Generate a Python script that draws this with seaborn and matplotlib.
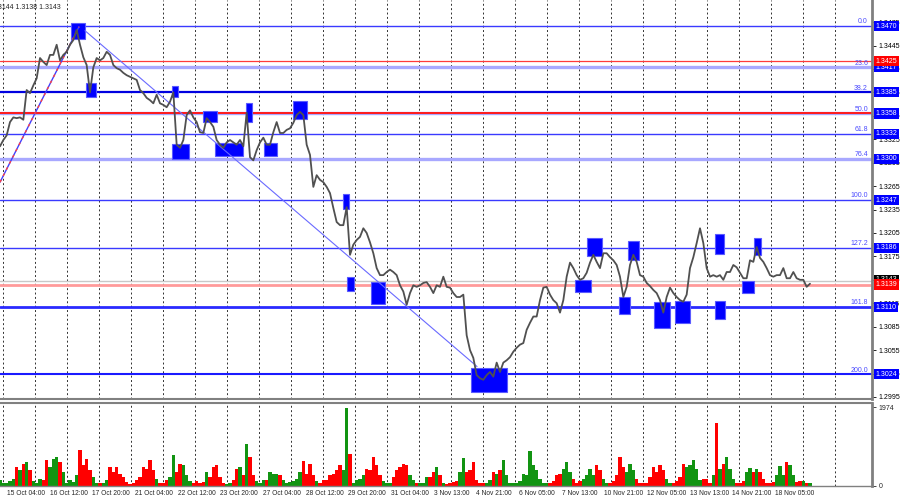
import numpy as np
import matplotlib
matplotlib.use('Agg')
import matplotlib.pyplot as plt
import matplotlib.transforms as mtransforms
from matplotlib.patches import Rectangle
import seaborn as sns

sns.set_style('white')
plt.rcParams['font.family'] = ['Liberation Sans', 'DejaVu Sans']

closes = [
    1.3316, 1.3324, 1.3330, 1.3347, 1.3353, 1.3352, 1.3353, 1.3350, 1.3388, 1.3384,
    1.3394, 1.3403, 1.3429, 1.3424, 1.3420, 1.3433, 1.3433, 1.3446, 1.3426, 1.3433,
    1.3437, 1.3446, 1.3452, 1.3465, 1.3446, 1.3430, 1.3420, 1.3385, 1.3417, 1.3429,
    1.3426, 1.3429, 1.3437, 1.3433, 1.3420, 1.3416, 1.3414, 1.3410, 1.3407, 1.3405,
    1.3403, 1.3401, 1.3388, 1.3384, 1.3378, 1.3375, 1.3371, 1.3382, 1.3371, 1.3369,
    1.3366, 1.3373, 1.3385, 1.3318, 1.3314, 1.3324, 1.3356, 1.3362, 1.3353, 1.3347,
    1.3334, 1.3333, 1.3352, 1.3347, 1.3341, 1.3324, 1.3318, 1.3314, 1.3321, 1.3324,
    1.3321, 1.3318, 1.3324, 1.3316, 1.3359, 1.3302, 1.3298, 1.3311, 1.3321, 1.3327,
    1.3318, 1.3318, 1.3334, 1.3347, 1.3333, 1.3333, 1.3337, 1.3339, 1.3346, 1.3356,
    1.3360, 1.3356, 1.3318, 1.3305, 1.3264, 1.3279, 1.3273, 1.3270, 1.3264, 1.3256,
    1.3237, 1.3219, 1.3215, 1.3215, 1.3238, 1.3177, 1.3190, 1.3196, 1.3200, 1.3211,
    1.3205, 1.3193, 1.3179, 1.3160, 1.3151, 1.3151, 1.3155, 1.3158, 1.3155, 1.3151,
    1.3138, 1.3130, 1.3113, 1.3128, 1.3138, 1.3136, 1.3138, 1.3141, 1.3142, 1.3136,
    1.3128, 1.3138, 1.3136, 1.3149, 1.3136, 1.3135, 1.3128, 1.3123, 1.3123, 1.3126,
    1.3074, 1.3055, 1.3045, 1.3023, 1.3019, 1.3017, 1.3023, 1.3027, 1.3021, 1.3039,
    1.3027, 1.3039, 1.3042, 1.3046, 1.3053, 1.3058, 1.3062, 1.3064, 1.3081, 1.3090,
    1.3098, 1.3098, 1.3119, 1.3135, 1.3136, 1.3126, 1.3119, 1.3115, 1.3103, 1.3119,
    1.3149, 1.3167, 1.3160, 1.3151, 1.3145, 1.3147, 1.3154, 1.3167, 1.3177, 1.3168,
    1.3160, 1.3179, 1.3179, 1.3174, 1.3170, 1.3164, 1.3149, 1.3123, 1.3136, 1.3164,
    1.3177, 1.3168, 1.3151, 1.3149, 1.3141, 1.3137, 1.3132, 1.3128, 1.3119, 1.3103,
    1.3123, 1.3135, 1.3128, 1.3123, 1.3119, 1.3117, 1.3126, 1.3160, 1.3174, 1.3192,
    1.3211, 1.3192, 1.3160, 1.3149, 1.3151, 1.3149, 1.3151, 1.3145, 1.3155, 1.3155,
    1.3164, 1.3161, 1.3154, 1.3147, 1.3147, 1.3170, 1.3168, 1.3187, 1.3173, 1.3168,
    1.3160, 1.3151, 1.3149, 1.3151, 1.3151, 1.3160, 1.3147, 1.3147, 1.3155, 1.3147,
    1.3145, 1.3145, 1.3136, 1.3140,
]

volumes = [
    140, 80, 80, 120, 180, 470, 390, 560, 600, 390,
    120, 80, 180, 140, 640, 470, 680, 720, 600, 350,
    80, 140, 100, 270, 890, 520, 680, 390, 220, 80,
    80, 80, 140, 470, 350, 470, 300, 220, 100, 60,
    80, 140, 220, 470, 430, 640, 390, 180, 80, 80,
    140, 220, 780, 350, 560, 520, 270, 120, 80, 120,
    80, 100, 350, 220, 470, 520, 220, 80, 60, 80,
    140, 430, 470, 270, 1060, 720, 270, 120, 80, 140,
    140, 350, 300, 300, 270, 140, 80, 100, 120, 180,
    350, 620, 300, 560, 270, 120, 80, 140, 140, 270,
    300, 390, 520, 390, 1960, 800, 80, 140, 180, 270,
    430, 390, 720, 520, 270, 120, 80, 80, 220, 390,
    470, 560, 520, 270, 140, 80, 80, 80, 220, 220,
    350, 470, 270, 80, 60,
    80, 100, 120, 350, 700, 350, 390, 600, 140, 80,
    80, 80, 140, 350, 300, 390, 660, 270, 80, 80,
    80, 120, 300, 270, 870, 520, 390, 180, 80, 80,
    80, 120, 270, 300, 430, 600, 350, 180, 80, 120,
    180, 270, 430, 270, 520, 390, 180, 80, 80, 120,
    270, 720, 470, 350, 560, 390, 180, 80, 80, 80,
    220, 470, 350, 520, 390, 180, 80, 80, 120, 220,
    560, 470, 520, 640, 430, 140, 180, 180, 80, 270,
    1570, 430, 560, 720, 430, 180, 80, 80, 120, 350,
    450, 350, 420, 350, 180, 80, 80, 100, 270, 500,
    270, 600, 520, 270, 100, 120, 120, 80, 80,
]

# fibonacci levels
fib_names = ['0.0', '23.6', '38.2', '50.0', '61.8', '76.4', '100.0', '127.2', '161.8', '200.0']
fib_levels = [1.3470, 1.3417, 1.3385, 1.3358, 1.3332, 1.3300, 1.3247, 1.3186, 1.3110, 1.3024]

# blue zones (hours, prices)
zone_start = [53, 64.5, 129, 129, 152, 161, 184.5, 198, 220, 257, 260, 278, 353, 431, 440, 464, 471, 490.5, 506, 536, 536, 556.5, 565.5]
zone_end = [64, 72, 133.5, 142, 163, 182, 189, 208, 230, 262, 265.5, 289, 380, 443, 451.5, 472.5, 479, 502.5, 517.5, 543, 544, 565.5, 571]
zone_low = [1.3453, 1.3379, 1.3379, 1.3300, 1.3347, 1.3304, 1.3347, 1.3304, 1.3351, 1.3236, 1.3131, 1.3114, 1.3001, 1.3130, 1.3176, 1.3101, 1.3170, 1.3083, 1.3090, 1.3178, 1.3095, 1.3128, 1.3177]
zone_high = [1.3474, 1.3397, 1.3393, 1.3319, 1.3361, 1.3320, 1.3371, 1.3320, 1.3374, 1.3255, 1.3149, 1.3142, 1.3032, 1.3145, 1.3199, 1.3123, 1.3195, 1.3117, 1.3118, 1.3204, 1.3118, 1.3144, 1.3199]

price_ticks = [1.2995, 1.3025, 1.3055, 1.3085, 1.3115, 1.3145, 1.3175, 1.3205, 1.3235,
               1.3265, 1.3295, 1.3325, 1.3355, 1.3385, 1.3415, 1.3445, 1.3475]

time_labels = ['15 Oct 04:00', '16 Oct 12:00', '17 Oct 20:00', '21 Oct 04:00', '22 Oct 12:00',
               '23 Oct 20:00', '27 Oct 04:00', '28 Oct 12:00', '29 Oct 20:00', '31 Oct 04:00',
               '3 Nov 13:00', '4 Nov 21:00', '6 Nov 05:00', '7 Nov 13:00', '10 Nov 21:00',
               '12 Nov 05:00', '13 Nov 13:00', '14 Nov 21:00', '18 Nov 05:00']

hours = np.arange(len(closes)) * 2.5
up = np.r_[True, np.diff(closes) >= 0]
vol_colors = np.where(up, '#129412', '#ff0000')

fig = plt.figure(figsize=(9, 5), dpi=100)
ax = fig.add_axes([0, 0.202, 872 / 900, 0.798])
axv = fig.add_axes([0, 0.028, 872 / 900, 0.166], sharex=ax)
ax.set_xlim(0, 654)
ax.set_ylim(1.29924, 1.35033)

# daily dashed grid
for g in np.arange(2.5, 630, 24):
    for a in (ax, axv):
        a.axvline(g, color='#303030', lw=0.7, ls=(0, (2, 2.5)), zorder=0)

fib_style = {'0.0': ('#3a3aff', 1.0), '23.6': ('#a8a8ff', 2.4), '38.2': ('#0000e0', 1.6),
             '50.0': ('#a8a8ff', 2.4), '61.8': ('#3a3aff', 1.0), '76.4': ('#a8a8ff', 2.4),
             '100.0': ('#3a3aff', 1.0), '127.2': ('#3a3aff', 1.0), '161.8': ('#2a2aff', 2.0),
             '200.0': ('#1a1aff', 1.5)}
for name, lev in zip(fib_names, fib_levels):
    c, w = fib_style[name]
    ax.axhline(lev, color=c, lw=w, zorder=1)
    ax.text(651, lev + 0.0001, name, color='#4a4aff', fontsize=5, ha='right', va='bottom', zorder=5)

ax.axhline(1.3425, color='#ff3a3a', lw=0.9, zorder=1)
ax.axhline(1.3358, color='#ff1a1a', lw=1.4, zorder=1.2)
ax.axhline(1.3143, color='#c8c8c8', lw=1.0, zorder=1)
ax.axhline(1.3139, color='#ff9a9a', lw=2.0, zorder=1)

for x0, x1, lo, hi in zip(zone_start, zone_end, zone_low, zone_high):
    ax.add_patch(Rectangle((x0, lo), x1 - x0, hi - lo, fc='#0000ff', ec='#5a5aff', lw=0.8, zorder=2))

# trend lines
ax.plot([0, 59.25], [1.3270, 1.3469], color='#4040ff', lw=1.0, zorder=3)
ax.plot([0, 59.25], [1.3270, 1.3469], color='#ff4040', lw=1.0, ls=(0, (2, 3)), zorder=3)
ax.plot([63.75, 357.75], [1.3464, 1.3034], color='#6a6aff', lw=0.8, zorder=3)

sns.lineplot(x=hours, y=closes, ax=ax, color='#505050', lw=1.3, zorder=4)

ax.yaxis.tick_right()
ax.set_yticks(price_ticks)
ax.set_yticklabels([f'{v:.4f}' for v in price_ticks])
ax.tick_params(axis='y', length=3, width=0.6, pad=2, labelsize=5, colors='black')
ax.tick_params(axis='x', bottom=False, labelbottom=False)
ax.set_xlabel('')
ax.set_ylabel('')

trans = mtransforms.blended_transform_factory(ax.transAxes, ax.transData)
box_x = 1.0045
ax.text(box_x, 1.3145, '1.3143', transform=trans, color='white', fontsize=5, va='center', ha='left',
        bbox=dict(boxstyle='square,pad=0.22', fc='black', ec='none'), clip_on=False, zorder=9)
for lev in fib_levels:
    ax.text(box_x, lev, f'{lev:.4f}', transform=trans, color='white', fontsize=5, va='center', ha='left',
            bbox=dict(boxstyle='square,pad=0.22', fc='#0000ff', ec='none'), clip_on=False, zorder=10)
for lev in (1.3425, 1.3139):
    ax.text(box_x, lev, f'{lev:.4f}', transform=trans, color='white', fontsize=5, va='center', ha='left',
            bbox=dict(boxstyle='square,pad=0.22', fc='#ff0000', ec='none'), clip_on=False, zorder=10)

ax.annotate('1.3144 1.3138 1.3143', xy=(0, 1), xycoords='axes fraction', xytext=(-8, -4),
            textcoords='offset pixels', fontsize=5, va='top', ha='left', annotation_clip=False)

for s in ('left', 'top'):
    ax.spines[s].set_visible(False)
ax.spines['right'].set_color('#808080')
ax.spines['right'].set_linewidth(2)
ax.spines['bottom'].set_color('#808080')
ax.spines['bottom'].set_linewidth(1.5)

# volume pane
axv.bar(hours, volumes, width=2.3, color=vol_colors, linewidth=0)
axv.set_ylim(0, 2075)
axv.yaxis.tick_right()
axv.set_yticks([0, 1974])
axv.set_yticklabels(['0', '1974'])
axv.tick_params(axis='y', length=3, width=0.6, pad=2, labelsize=5)
label_hours = 3.75 + 32 * np.arange(len(time_labels))
axv.set_xticks(label_hours)
axv.set_xticklabels([])
axv.tick_params(axis='x', length=3, width=0.6, direction='out')
tv = mtransforms.blended_transform_factory(axv.transData, axv.transAxes)
for h, lab in zip(label_hours, time_labels):
    axv.text(h + 1.5, -0.09, lab, transform=tv, fontsize=4.8, ha='left', va='center', clip_on=False)
axv.spines['left'].set_visible(False)
axv.spines['top'].set_color('#808080')
axv.spines['top'].set_linewidth(1.5)
axv.spines['right'].set_color('#808080')
axv.spines['right'].set_linewidth(2)
axv.spines['bottom'].set_color('#808080')
axv.spines['bottom'].set_linewidth(1)

fig.savefig('out.png', dpi=100)
